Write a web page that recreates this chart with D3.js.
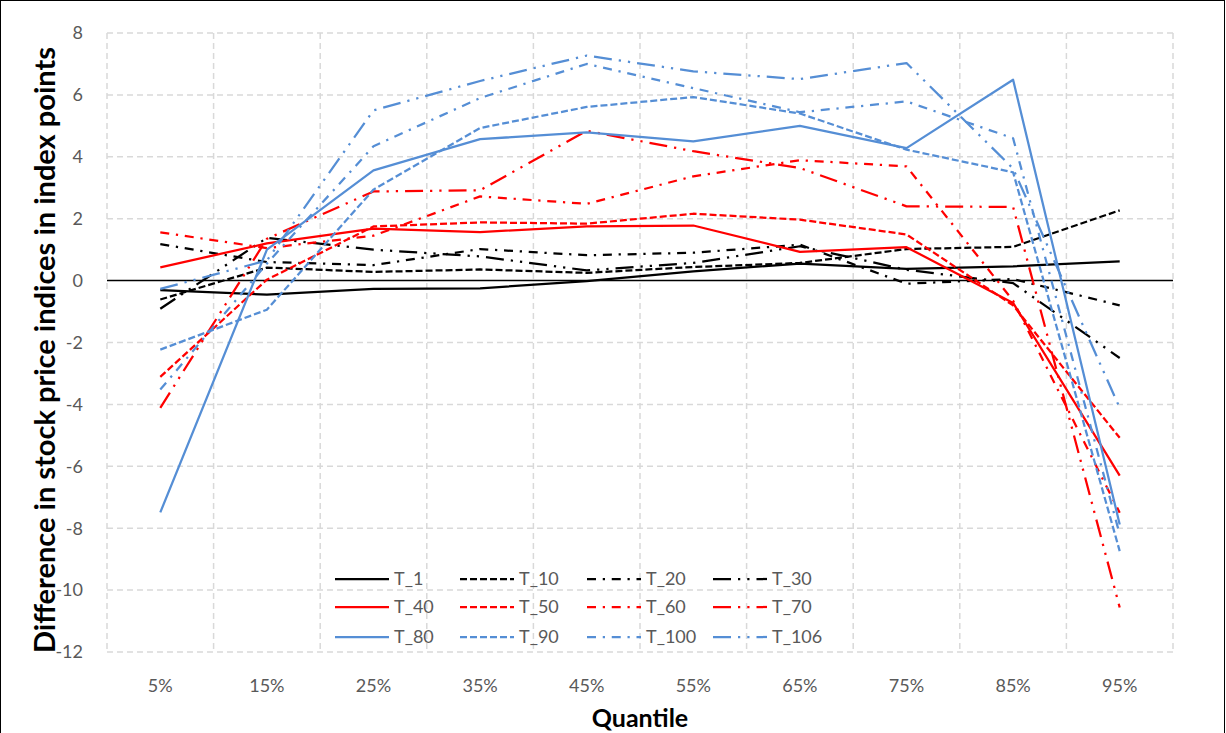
<!DOCTYPE html>
<meta charset="utf-8">
<head>
<title>Quantile differences</title>
<style>
body { margin: 0; background: #fff; }
text { font-family: Lato, "Open Sans", sans-serif; }
.tick { fill: #595959; font-size: 18px; }
.title { fill: #000; font-weight: bold; }
.grid { stroke: #d9d9d9; stroke-width: 1.5; stroke-dasharray: 6,4; fill: none; }
</style>
</head>
<body>
<div id="chart"></div>
<script src="https://d3js.org/d3.v7.min.js"></script>
<script>
var width = 1226,
    height = 733;

var quantiles = ["5%", "15%", "25%", "35%", "45%", "55%", "65%", "75%", "85%", "95%"];
var yTicks = [-12, -10, -8, -6, -4, -2, 0, 2, 4, 6, 8];
var seriesNames = ["T_1", "T_10", "T_20", "T_30", "T_40", "T_50", "T_60", "T_70", "T_80", "T_90", "T_100", "T_106"];

var T_1   = [-0.31, -0.45, -0.27, -0.25, -0.02, 0.30, 0.55, 0.38, 0.46, 0.62];
var T_10  = [-0.61, 0.42, 0.28, 0.36, 0.25, 0.44, 0.57, 1.02, 1.09, 2.27];
var T_20  = [1.18, 0.60, 0.50, 1.02, 0.82, 0.90, 1.16, -0.10, 0.05, -0.80];
var T_30  = [-0.91, 1.38, 1.00, 0.78, 0.33, 0.57, 1.11, 0.35, -0.08, -2.50];
var T_40  = [0.43, 1.20, 1.68, 1.57, 1.75, 1.78, 0.93, 1.08, -0.72, -6.30];
var T_50  = [-3.11, 0.03, 1.75, 1.88, 1.84, 2.16, 1.97, 1.49, -0.80, -5.08];
var T_60  = [1.56, 1.05, 1.45, 2.72, 2.48, 3.37, 3.89, 3.69, -0.65, -7.50];
var T_70  = [-4.11, 1.35, 2.88, 2.92, 4.84, 4.18, 3.64, 2.40, 2.38, -10.56];
var T_80  = [-7.49, 1.00, 3.56, 4.57, 4.79, 4.50, 5.00, 4.28, 6.49, -7.88];
var T_90  = [-2.23, -0.94, 2.94, 4.93, 5.61, 5.93, 5.40, 4.23, 3.50, -8.74];
var T_100 = [-3.52, 0.55, 4.34, 5.90, 7.00, 6.22, 5.44, 5.79, 4.60, -8.20];
var T_106 = [-0.27, 0.65, 5.50, 6.45, 7.27, 6.76, 6.51, 7.03, 3.62, -4.11];

var seriesValues = [T_1, T_10, T_20, T_30, T_40, T_50, T_60, T_70, T_80, T_90, T_100, T_106];

// colour per group of four, dash per position in group
var colors = ["#000000", "#ff0000", "#558ed5"];
var dashes = ["none", "7,3", "9,6.75,2.25,6.75", "18,7,2.25,7,2.25,7"];

var plot = {left: 107, right: 1173, top: 33, bottom: 652};

var svg = d3.select("#chart").append("svg")
    .attr("width", width)
    .attr("height", height);

svg.append("rect")
    .attr("x", 0.5).attr("y", 0.5)
    .attr("width", width - 2).attr("height", height + 10)
    .attr("fill", "#fff")
    .attr("stroke", "#000")
    .attr("stroke-width", 1);

var x = d3.scalePoint()
    .domain(quantiles)
    .range([plot.left, plot.right])
    .padding(0.5);

var y = d3.scaleLinear()
    .domain([-12, 8])
    .range([plot.bottom, plot.top]);

var step = x.step();

// horizontal gridlines
svg.append("g").selectAll("line")
    .data(yTicks.filter(function(d) { return d != 0; }))
    .enter().append("line")
    .attr("class", "grid")
    .attr("x1", plot.left).attr("x2", plot.right)
    .attr("y1", function(d) { return y(d); })
    .attr("y2", function(d) { return y(d); });

// vertical gridlines between categories
var bounds = quantiles.map(function(q) { return x(q) - step / 2; });
bounds.push(x(quantiles[quantiles.length - 1]) + step / 2);
svg.append("g").selectAll("line")
    .data(bounds)
    .enter().append("line")
    .attr("class", "grid")
    .attr("x1", function(d) { return d; })
    .attr("x2", function(d) { return d; })
    .attr("y1", plot.top).attr("y2", plot.bottom);

// zero line
svg.append("line")
    .attr("x1", plot.left).attr("x2", plot.right)
    .attr("y1", y(0)).attr("y2", y(0))
    .attr("stroke", "#000")
    .attr("stroke-width", 1.5);

// y tick labels
svg.append("g").selectAll("text")
    .data(yTicks)
    .enter().append("text")
    .attr("class", "tick")
    .attr("x", 83)
    .attr("y", function(d) { return y(d); })
    .attr("dy", "0.35em")
    .attr("text-anchor", "end")
    .text(function(d) { return String(d); });

// x tick labels
svg.append("g").selectAll("text")
    .data(quantiles)
    .enter().append("text")
    .attr("class", "tick")
    .attr("x", function(d) { return x(d); })
    .attr("y", 692)
    .attr("text-anchor", "middle")
    .text(function(d) { return d; });

// axis titles
svg.append("text")
    .attr("class", "title")
    .style("font-size", "29px")
    .attr("transform", "translate(55,350)rotate(-90)")
    .attr("text-anchor", "middle")
    .text("Difference in stock price indices in index points");

svg.append("text")
    .attr("class", "title")
    .style("font-size", "25px")
    .attr("x", 640)
    .attr("y", 727)
    .attr("text-anchor", "middle")
    .text("Quantile");

var line = d3.line()
    .x(function(d, i) { return x(quantiles[i]); })
    .y(function(d) { return y(d); });

svg.append("g").selectAll("path")
    .data(seriesValues)
    .enter().append("path")
    .attr("d", line)
    .attr("fill", "none")
    .attr("stroke", function(d, i) { return colors[Math.floor(i / 4)]; })
    .attr("stroke-width", 2.25)
    .attr("stroke-dasharray", function(d, i) { return dashes[i % 4]; })
    .attr("stroke-linejoin", "round");

// legend, 4 columns x 3 rows
var legendCols = [335, 460, 587, 713],
    legendRows = [579, 607, 637];

var legend = svg.append("g").selectAll("g")
    .data(seriesNames)
    .enter().append("g")
    .attr("transform", function(d, i) {
        return "translate(" + legendCols[i % 4] + "," + legendRows[Math.floor(i / 4)] + ")";
    });

legend.append("line")
    .attr("x1", 0).attr("x2", 54)
    .attr("y1", 0).attr("y2", 0)
    .attr("stroke", function(d, i) { return colors[Math.floor(i / 4)]; })
    .attr("stroke-width", 2.25)
    .attr("stroke-dasharray", function(d, i) { return dashes[i % 4]; });

legend.append("text")
    .attr("class", "tick")
    .attr("x", 59)
    .attr("y", 0)
    .attr("dy", "0.35em")
    .text(function(d) { return d; });
</script>
</body>
